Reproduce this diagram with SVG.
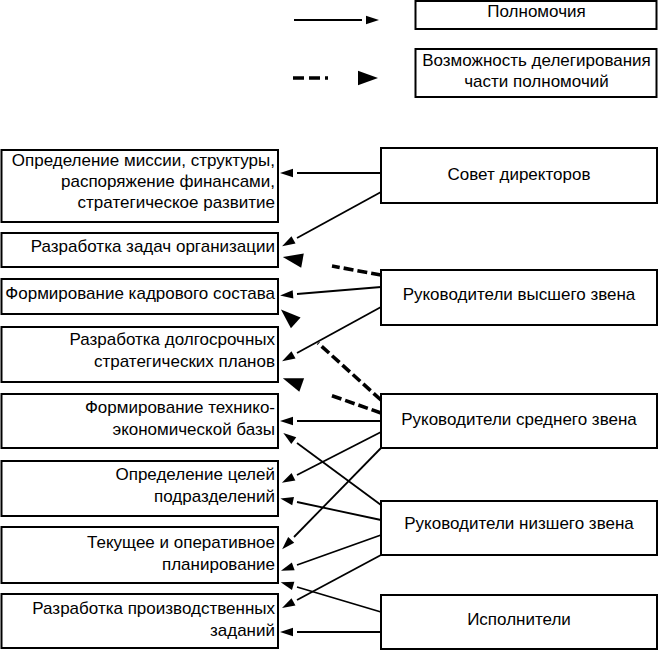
<svg xmlns="http://www.w3.org/2000/svg" width="659" height="651" viewBox="0 0 659 651">
<style>
.box{fill:#fff;stroke:#000;stroke-width:2}
text{font-family:"Liberation Sans",Arial,sans-serif;font-size:17px;fill:#000}
.l{text-anchor:end}
.c{text-anchor:middle}
.ln{stroke:#000;stroke-width:1.8;fill:none;marker-end:url(#sa)}
.dl{stroke:#000;stroke-width:3.6;fill:none;stroke-dasharray:10,4;marker-end:url(#ba)}
</style>
<defs>
<marker id="sa" markerUnits="userSpaceOnUse" orient="auto" markerWidth="20" markerHeight="10" viewBox="0 0 20 10" refX="0" refY="5"><path d="M4,0.8 L17,5 L4,9.2 Z" fill="#000"/></marker>
<marker id="ba" markerUnits="userSpaceOnUse" orient="auto" markerWidth="52" markerHeight="16" viewBox="0 0 52 16" refX="0" refY="8"><path d="M30,0.8 L50,8 L30,15.2 Z" fill="#000"/></marker>
</defs>
<rect width="659" height="651" fill="#fff"/>

<g id="legend">
<line x1="294" y1="20" x2="362" y2="20" class="ln"/>
<line x1="293" y1="78" x2="328" y2="78" stroke="#000" stroke-width="3.6" stroke-dasharray="11,5" marker-end="url(#ba)"/>
<g id="legend-solid"><rect class="box" x="415.5" y="1" width="241" height="28"/><text class="c" x="536.5" y="17">Полномочия</text></g>
<g id="legend-dashed"><rect class="box" x="415.5" y="49" width="241" height="48"/><text class="c" x="536.5" y="66">Возможность делегирования</text><text class="c" x="536.5" y="87">части полномочий</text></g>
</g>

<g id="task-mission"><rect class="box" x="1.5" y="150" width="276.5" height="72"/>
<text class="l" x="275" y="166">Определение миссии, структуры,</text>
<text class="l" x="275" y="187">распоряжение финансами,</text>
<text class="l" x="275" y="208">стратегическое развитие</text></g>
<g id="task-org"><rect class="box" x="1.5" y="233" width="276.5" height="34"/>
<text class="l" x="275" y="252">Разработка задач организации</text></g>
<g id="task-staff"><rect class="box" x="1.5" y="279" width="276.5" height="35"/>
<text class="l" x="275" y="299">Формирование кадрового состава</text></g>
<g id="task-longterm"><rect class="box" x="1.5" y="327" width="276.5" height="55"/>
<text class="l" x="275" y="345">Разработка долгосрочных</text>
<text class="l" x="275" y="367">стратегических планов</text></g>
<g id="task-techbase"><rect class="box" x="1.5" y="394" width="276.5" height="54"/>
<text class="l" x="275" y="413">Формирование технико-</text>
<text class="l" x="275" y="435">экономической базы</text></g>
<g id="task-goals"><rect class="box" x="1.5" y="461" width="276.5" height="55"/>
<text class="l" x="275" y="480">Определение целей</text>
<text class="l" x="275" y="502">подразделений</text></g>
<g id="task-planning"><rect class="box" x="1.5" y="527" width="276.5" height="56"/>
<text class="l" x="275" y="548">Текущее и оперативное</text>
<text class="l" x="275" y="570">планирование</text></g>
<g id="task-production"><rect class="box" x="1.5" y="594" width="276.5" height="54"/>
<text class="l" x="275" y="614">Разработка производственных</text>
<text class="l" x="275" y="636">заданий</text></g>

<g id="board"><rect class="box" x="381" y="148" width="276" height="55"/><text class="c" x="519" y="180">Совет директоров</text></g>
<g id="top-managers"><rect class="box" x="381" y="270" width="276" height="55"/><text class="c" x="519" y="300">Руководители высшего звена</text></g>
<g id="middle-managers"><rect class="box" x="381" y="394" width="276" height="54"/><text class="c" x="519" y="425">Руководители среднего звена</text></g>
<g id="lower-managers"><rect class="box" x="381" y="501" width="276" height="54"/><text class="c" x="519" y="529">Руководители низшего звена</text></g>
<g id="executors"><rect class="box" x="381" y="595" width="276" height="54"/><text class="c" x="519" y="625">Исполнители</text></g>

<g id="connectors">
<line class="ln" x1="381" y1="173" x2="297" y2="173"/>
<line class="ln" x1="381" y1="192" x2="297" y2="238"/>
<line class="ln" x1="381" y1="287" x2="297" y2="294"/>
<line class="ln" x1="381" y1="307" x2="297" y2="353"/>
<line class="ln" x1="381" y1="421" x2="297" y2="421"/>
<line class="ln" x1="381" y1="432" x2="297" y2="475"/>
<line class="ln" x1="381" y1="448" x2="294" y2="537"/>
<line class="ln" x1="381" y1="505" x2="297" y2="443"/>
<line class="ln" x1="381" y1="520" x2="297" y2="502"/>
<line class="ln" x1="381" y1="535" x2="297" y2="565"/>
<line class="ln" x1="381" y1="555" x2="297" y2="600"/>
<line class="ln" x1="381" y1="612" x2="297" y2="587"/>
<line class="ln" x1="381" y1="632" x2="297" y2="632"/>
<line class="dl" x1="381" y1="275" x2="332" y2="266"/>
<line class="dl" x1="381" y1="400" x2="318" y2="343"/>
<line class="dl" x1="381" y1="413" x2="330" y2="395"/>
</g>
</svg>
